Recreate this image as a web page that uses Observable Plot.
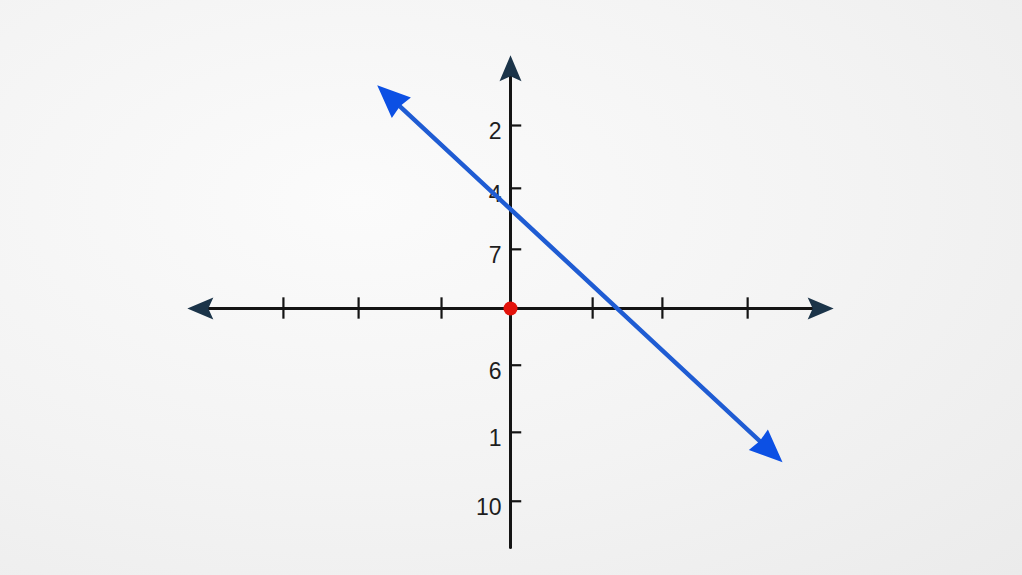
<!DOCTYPE html>
<html>
<head>
<meta charset="utf-8">
<script src="https://cdn.jsdelivr.net/npm/d3@7"></script>
<script src="https://cdn.jsdelivr.net/npm/@observablehq/plot@0.6"></script>
<style>
  html, body { margin: 0; padding: 0; width: 1022px; height: 575px; overflow: hidden;
    background: radial-gradient(ellipse at 35% 35%, #fbfbfb 0%, #f3f3f3 55%, #ebebeb 100%); }
  #chart svg { display: block; background: transparent; }
</style>
</head>
<body>
<div id="chart"></div>
<script>
// ---- data (in graph units) ----
const xTickValues = [-2.93, -1.96, -0.89, 1.06, 1.96, 3.06];
const yTickValues = [3.0, 1.97, 0.97, -0.93, -2.03, -3.16];
const yTickLabels = ["2", "4", "7", "6", "1", "10"];
const xAxisEnds = [-4.17, 4.17];
const yAxisEnds = [-3.92, 4.15];
const lineStart = [-1.72, 3.66];
const lineEnd = [3.51, -2.52];
const origin = [0, 0];

// ---- layout ----
const W = 1022, H = 575;
const xUnit = 77.5, yUnit = 61;
const x0px = 510, y0px = 308;
const xDomain = [-x0px / xUnit, (W - x0px) / xUnit];
const yDomain = [-(H - y0px) / yUnit, y0px / yUnit];

// arrowhead symbols: tip at origin, pointing up
function headSymbol(len, half, notch) {
  return {
    draw(ctx, size) {
      const s = Math.sqrt(size / Math.PI) / 10;
      ctx.moveTo(0, 0);
      ctx.lineTo(half * s, len * s);
      ctx.lineTo(0, (len - notch) * s);
      ctx.lineTo(-half * s, len * s);
      ctx.closePath();
    }
  };
}
const axisHead = headSymbol(26, 11, 5);
const blueHead = headSymbol(33, 14, 2);

function angleOf(fromPt, toPt) {
  const dx = (toPt[0] - fromPt[0]) * xUnit;
  const dy = -(toPt[1] - fromPt[1]) * yUnit;
  return Math.atan2(dx, -dy) * 180 / Math.PI;
}

const axisHeads = [
  {x: xAxisEnds[0], y: 0, a: -90},
  {x: xAxisEnds[1], y: 0, a: 90},
  {x: 0, y: yAxisEnds[1], a: 0}
];
const blueHeads = [
  {x: lineStart[0], y: lineStart[1], a: angleOf(lineEnd, lineStart)},
  {x: lineEnd[0], y: lineEnd[1], a: angleOf(lineStart, lineEnd)}
];

const axisColor = "#141414";
const headColor = "#1b3449";
const blue = "#1f5cd3";
const blueHeadColor = "#0c50e4";

const chart = Plot.plot({
  width: W, height: H,
  margin: 0,
  x: {domain: xDomain, axis: null},
  y: {domain: yDomain, axis: null},
  style: {background: "transparent", fontFamily: "'Liberation Sans', Arial, sans-serif"},
  marks: [
    // x axis line
    Plot.arrow([xAxisEnds], {x1: d => d[0], x2: d => d[1], y1: 0, y2: 0,
      headLength: 0, insetStart: 14, insetEnd: 14, stroke: axisColor, strokeWidth: 3}),
    // y axis line
    Plot.arrow([yAxisEnds], {x1: 0, x2: 0, y1: d => d[0], y2: d => d[1],
      headLength: 0, insetEnd: 14, stroke: axisColor, strokeWidth: 3}),
    // x ticks
    Plot.ruleX(xTickValues, {x: d => d, y1: -0.175, y2: 0.175, stroke: axisColor, strokeWidth: 2.2}),
    // y ticks
    Plot.ruleY(yTickValues, {y: d => d, x1: 0, x2: 0.145, stroke: axisColor, strokeWidth: 2.2}),
    // y tick labels
    Plot.text(yTickValues, {x: 0, y: d => d, text: (d, i) => yTickLabels[i],
      textAnchor: "end", dx: -9, dy: 6, fontSize: 23, fill: "#1e1e1e"}),
    // axis arrowheads
    Plot.dot(axisHeads, {x: "x", y: "y", rotate: "a", symbol: axisHead, r: 10,
      fill: headColor, stroke: "none"}),
    // blue line
    Plot.arrow([[lineStart, lineEnd]], {x1: d => d[0][0], y1: d => d[0][1], x2: d => d[1][0], y2: d => d[1][1],
      headLength: 0, insetStart: 20, insetEnd: 20, stroke: blue, strokeWidth: 4.5}),
    Plot.dot(blueHeads, {x: "x", y: "y", rotate: "a", symbol: blueHead, r: 10,
      fill: blueHeadColor, stroke: "none"}),
    // origin point
    Plot.dot([origin], {x: d => d[0], y: d => d[1], r: 7, fill: "#e3120b", stroke: "none"})
  ]
});
document.getElementById("chart").appendChild(chart);
</script>
</body>
</html>
